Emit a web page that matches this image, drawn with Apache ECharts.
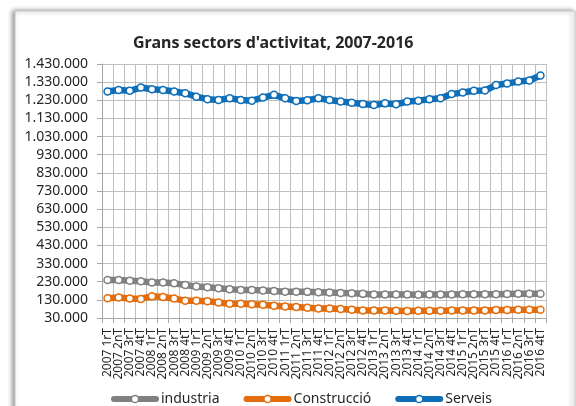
<!DOCTYPE html>
<html>
<head>
<meta charset="utf-8">
<script src="https://cdn.jsdelivr.net/npm/echarts@6/dist/echarts.min.js"></script>
<style>
  html, body { margin: 0; padding: 0; background: #fff; }
  #chart { width: 576px; height: 406px; }
</style>
</head>
<body>
<div id="chart"></div>
<script>
const years = ['2007','2008','2009','2010','2011','2012','2013','2014','2015','2016'];
const quarters = ['1rT','2nT','3rT','4tT'];
const categories = [];
years.forEach(y => quarters.forEach(q => categories.push(y + ' ' + q)));

const seriesNames = ['industria', 'Construcció', 'Serveis'];

const industria = [239000,239000,235000,232000,226000,226000,221000,212000,203000,199000,
  194000,188000,185000,185000,181000,179000,175000,175000,174000,172000,
  170000,168000,166000,163000,160000,159000,159000,159000,158000,159000,
  159000,160000,161000,161000,161000,161000,162000,164000,164000,164000];

const construccio = [139000,143000,137000,135000,150000,146000,137000,125000,125000,123000,
  115000,108000,108000,106000,103000,97000,94000,90000,87000,83000,
  82000,79000,75000,72000,72000,72000,70000,68000,70000,70000,
  70000,72000,72000,72000,72000,74000,74000,75000,75000,76000];

const serveis = [1278000,1287000,1282000,1300000,1291000,1287000,1278000,1269000,1250000,1236000,
  1232000,1241000,1232000,1228000,1245000,1260000,1241000,1226000,1230000,1241000,
  1232000,1223000,1217000,1210000,1204000,1213000,1208000,1223000,1228000,1236000,
  1241000,1264000,1273000,1283000,1284000,1314000,1323000,1333000,1339000,1367000];

const yMin = 30000, yMax = 1430000, yStep = 100000;
const colors = ['#808080', '#E46C0A', '#0E6EB8'];
const FONT = '"Noto Sans", "Open Sans", sans-serif';

function fmt(v) {
  return String(Math.round(v)).replace(/\B(?=(\d{3})+(?!\d))/g, '.');
}

function lineSeries(name, data, color) {
  return {
    name: name,
    type: 'line',
    data: data,
    symbol: 'circle',
    symbolSize: 7,
    showSymbol: true,
    lineStyle: { color: color, width: 6.5, join: 'round' },
    itemStyle: { color: '#ffffff', borderColor: color, borderWidth: 1.5 },
    emphasis: { disabled: true },
    animation: false
  };
}

const chart = echarts.init(document.getElementById('chart'), null, { renderer: 'canvas' });
chart.setOption({
  animation: false,
  textStyle: { fontFamily: FONT },
  graphic: [{
    type: 'rect',
    z: -10,
    shape: { x: 15, y: 11, width: 560, height: 400 },
    style: {
      fill: '#ffffff',
      stroke: '#c8c8c8',
      lineWidth: 1,
      shadowBlur: 5,
      shadowOffsetX: -2,
      shadowColor: 'rgba(0,0,0,0.45)'
    }
  }],
  title: {
    text: "Grans sectors d'activitat, 2007-2016",
    left: 128,
    top: 30,
    textStyle: { fontFamily: FONT, fontSize: 16, fontWeight: 'bold', color: '#262626' }
  },
  grid: { left: 102, right: 30, top: 64, bottom: 88, containLabel: false },
  xAxis: {
    type: 'category',
    data: categories,
    boundaryGap: true,
    axisLine: { show: true, lineStyle: { color: '#a6a6a6', width: 1 } },
    axisTick: { show: true, interval: 0, length: 5, lineStyle: { color: '#a6a6a6' } },
    splitLine: { show: true, interval: 0, lineStyle: { color: '#bfbfbf', width: 1 } },
    axisLabel: {
      interval: 0, rotate: 90, margin: 10,
      fontFamily: FONT, fontSize: 12, color: '#262626'
    }
  },
  yAxis: {
    type: 'value',
    min: yMin, max: yMax, interval: yStep,
    axisLine: { show: true, lineStyle: { color: '#a6a6a6', width: 1 } },
    axisTick: { show: true, length: 5, lineStyle: { color: '#a6a6a6' } },
    splitLine: { show: true, lineStyle: { color: '#bfbfbf', width: 1 } },
    axisLabel: {
      margin: 14, formatter: fmt,
      fontFamily: FONT, fontSize: 14, color: '#262626'
    }
  },
  legend: {
    data: seriesNames,
    left: 106,
    top: 387,
    itemWidth: 42,
    itemHeight: 9,
    itemGap: 24,
    lineStyle: { width: 6, cap: 'round' },
    itemStyle: { borderWidth: 1.5 },
    textStyle: { fontFamily: FONT, fontSize: 14, color: '#262626' }
  },
  series: [
    lineSeries(seriesNames[0], industria, colors[0]),
    lineSeries(seriesNames[1], construccio, colors[1]),
    lineSeries(seriesNames[2], serveis, colors[2])
  ]
});
</script>
</body>
</html>
